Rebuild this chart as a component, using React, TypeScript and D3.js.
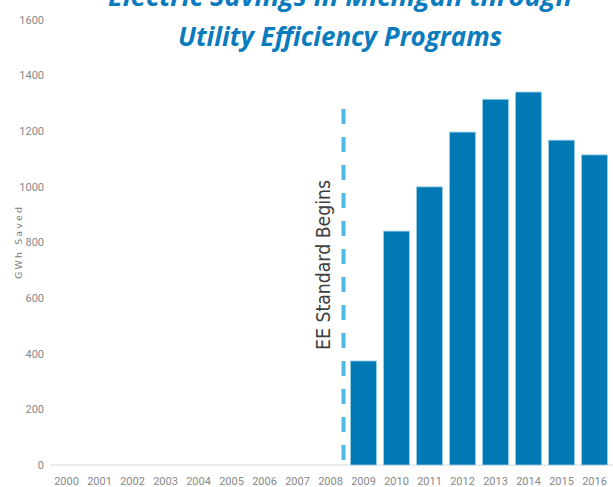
import * as d3 from 'd3';

const years = ['2000', '2001', '2002', '2003', '2004', '2005', '2006', '2007', '2008',
  '2009', '2010', '2011', '2012', '2013', '2014', '2015', '2016'];
const savings = [0, 0, 0, 0, 0, 0, 0, 0, 0, 374, 841, 1000, 1197, 1315, 1341, 1168, 1115];
const yTicks = [0, 200, 400, 600, 800, 1000, 1200, 1400, 1600];
const titleLines = ['Electric Savings in Michigan through', 'Utility Efficiency Programs'];
const markerYear = '2008';
const markerTop = 1280;

const W = 613;
const H = 487;

export default function App() {
  const x = d3.scaleBand<string>()
    .domain(years)
    .range([50, 611])
    .paddingInner(0.21)
    .paddingOuter(0.105);
  const y = d3.scaleLinear().domain([0, 1600]).range([465, 20]);

  const markerX = (x(markerYear) ?? 0) + x.bandwidth();
  const tickFont = '"Liberation Sans Narrow", "Roboto", sans-serif';

  return (
    <svg width={W} height={H} style={{ position: 'absolute', left: 0, top: 0, background: '#fff' }}>
      {/* title */}
      <g fill="#0a7cbd" fontFamily='"Open Sans", sans-serif' fontWeight="bold" fontStyle="italic" textAnchor="middle">
        <text x={340} y={6} fontSize={27} textLength={464} lengthAdjust="spacingAndGlyphs">{titleLines[0]}</text>
        <text x={340} y={46} fontSize={27} textLength={324} lengthAdjust="spacingAndGlyphs">{titleLines[1]}</text>
      </g>

      {/* y axis label */}
      <text transform="translate(22,243) rotate(-90)" textAnchor="middle" fontSize={9.5}
        fill="#808080" fontFamily='"DejaVu Sans", sans-serif' textLength={72}
        lengthAdjust="spacing">GWh Saved</text>

      {/* y ticks */}
      {yTicks.map(t => (
        <text key={t} x={44} y={y(t)} dy="0.35em" textAnchor="end" fontSize={11}
          fill="#888888" fontFamily={tickFont}>{t}</text>
      ))}

      {/* baseline */}
      <line x1={50} x2={W} y1={y(0)} y2={y(0)} stroke="#d9d9d9" strokeWidth={1} />

      {/* bars */}
      {years.map((yr, i) => savings[i] > 0 && (
        <rect key={yr} x={x(yr)} y={y(savings[i])} width={x.bandwidth()}
          height={y(0) - y(savings[i])} fill="#0079b5" stroke="#9fd0ea" strokeWidth={0.8} />
      ))}

      {/* x tick labels */}
      {years.map(yr => (
        <text key={yr} x={(x(yr) ?? 0) + x.bandwidth() / 2} y={481} dy="0.35em" textAnchor="middle"
          fontSize={11} fill="#888888" fontFamily={tickFont}>{yr}</text>
      ))}

      {/* EE standard marker */}
      <line x1={markerX} x2={markerX} y1={y(markerTop)} y2={y(0)} stroke="#4fb9e3"
        strokeWidth={4} strokeDasharray="15 13" />
      <text transform={`translate(${markerX - 14},${265}) rotate(-90)`} textAnchor="middle"
        fontSize={19} fill="#404040" fontFamily='"DejaVu Sans", sans-serif'
        textLength={170} lengthAdjust="spacingAndGlyphs">EE Standard Begins</text>
    </svg>
  );
}
